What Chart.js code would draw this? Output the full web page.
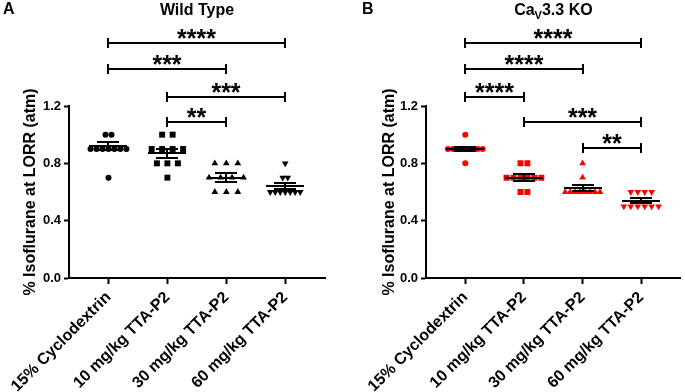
<!DOCTYPE html>
<html><head><meta charset="utf-8">
<script src="https://cdn.jsdelivr.net/npm/chart.js@4.4.1/dist/chart.umd.min.js"></script>
<style>
html,body{margin:0;padding:0;background:#fff;}
#wrap{position:relative;width:685px;height:392px;overflow:hidden;background:#fff;}
#c1{position:absolute;left:0;top:0;width:342px;height:392px;}
#c2{position:absolute;left:342px;top:0;width:343px;height:392px;}
</style></head><body>
<div id="wrap"><canvas id="c1" width="342" height="392"></canvas><canvas id="c2" width="343" height="392"></canvas></div>
<script>
// ---------- data ----------
const categories = ['15% Cyclodextrin', '10 mg/kg TTA-P2', '30 mg/kg TTA-P2', '60 mg/kg TTA-P2'];
const yTicks = [0, 0.4, 0.8, 1.2];

// Wild Type (panel A)
const wtCyclodextrin = [1.00, 1.00, 0.90, 0.90, 0.90, 0.90, 0.90, 0.90, 0.90, 0.70];
const wt10mg = [1.00, 1.00, 0.90, 0.90, 0.90, 0.90, 0.80, 0.80, 0.80, 0.70];
const wt30mg = [0.80, 0.80, 0.80, 0.70, 0.70, 0.70, 0.70, 0.60, 0.60, 0.60];
const wt60mg = [0.80, 0.70, 0.70, 0.60, 0.60, 0.60, 0.60, 0.60, 0.60, 0.60];
const wtMean = [0.92, 0.87, 0.70, 0.645];
const wtSem = [0.03, 0.03, 0.03, 0.021];
const wtBrackets = [[0, 3, 1.64, '****'], [0, 2, 1.455, '***'], [1, 3, 1.26, '***'], [1, 2, 1.09, '**']];

// CaV3.3 KO (panel B)
const koCyclodextrin = [1.00, 0.90, 0.90, 0.90, 0.90, 0.90, 0.90, 0.90, 0.90, 0.80];
const ko10mg = [0.80, 0.80, 0.70, 0.70, 0.70, 0.70, 0.70, 0.70, 0.60, 0.60];
const ko30mg = [0.80, 0.70, 0.60, 0.60, 0.60, 0.60, 0.60, 0.60, 0.60, 0.60];
const ko60mg = [0.60, 0.60, 0.60, 0.60, 0.50, 0.50, 0.50, 0.50, 0.50, 0.50];
const koMean = [0.90, 0.70, 0.63, 0.54];
const koSem = [0.015, 0.025, 0.022, 0.017];
const koBrackets = [[0, 3, 1.64, '****'], [0, 2, 1.455, '****'], [0, 1, 1.26, '****'], [1, 3, 1.09, '***'], [2, 3, 0.905, '**']];

// ---------- helpers ----------
const FONT = '"Liberation Sans", Arial, Helvetica, sans-serif';
const UNIT_PX = 59; // approx px per category, used only for horizontal spreading of equal values

function spread(values, spacingPx) {
  const counts = {}, seen = {};
  values.forEach(v => { counts[v] = (counts[v] || 0) + 1; });
  return values.map(v => {
    const k = counts[v]; const j = seen[v] || 0; seen[v] = j + 1;
    return (j - (k - 1) / 2) * spacingPx / UNIT_PX;
  });
}

function makeDatasets(groups, color, spacings) {
  const styles = [
    { pointStyle: 'circle', pointRadius: 3, rot: 0 },
    { pointStyle: 'rect', pointRadius: 4.2, rot: 0 },
    { pointStyle: 'triangle', pointRadius: 3.9, rot: 0 },
    { pointStyle: 'triangle', pointRadius: 3.9, rot: 180 }
  ];
  return groups.map((vals, i) => {
    const off = spread(vals, spacings[i]);
    return {
      data: vals.map((v, j) => ({ x: i + off[j], y: v })),
      pointStyle: styles[i].pointStyle,
      pointRadius: styles[i].pointRadius,
      pointRotation: styles[i].rot,
      backgroundColor: color,
      borderColor: color,
      borderWidth: 0,
      showLine: false
    };
  });
}

function ln(ctx, x1, y1, x2, y2) {
  ctx.beginPath(); ctx.moveTo(x1, y1); ctx.lineTo(x2, y2); ctx.stroke();
}

const panelPlugin = {
  id: 'panel',
  afterDatasetsDraw(chart, args, o) {
    const { ctx, scales: { x, y } } = chart;
    ctx.save();
    ctx.strokeStyle = '#000'; ctx.lineWidth = 2; ctx.lineCap = 'butt';
    o.means.forEach((m, i) => {
      const px = Math.round(x.getPixelForValue(i));
      const pm = Math.round(y.getPixelForValue(m));
      const pt = Math.round(y.getPixelForValue(m + o.sems[i]));
      const pb = Math.round(y.getPixelForValue(m - o.sems[i]));
      ln(ctx, px - 19, pm, px + 19, pm);
      ln(ctx, px, pt, px, pb);
      ln(ctx, px - 11, pt, px + 11, pt);
      ln(ctx, px - 11, pb, px + 11, pb);
    });
    ctx.restore();
  },
  afterDraw(chart, args, o) {
    const { ctx, chartArea, scales: { x, y } } = chart;
    ctx.save();
    ctx.fillStyle = '#000'; ctx.strokeStyle = '#000'; ctx.lineWidth = 2;
    // brackets
    o.brackets.forEach(([a, b, v, s]) => {
      const x1 = Math.round(x.getPixelForValue(a)), x2 = Math.round(x.getPixelForValue(b));
      const py = Math.round(y.getPixelForValue(v));
      ln(ctx, x1, py, x2, py);
      ln(ctx, x1, py - 5, x1, py + 5);
      ln(ctx, x2, py - 5, x2, py + 5);
      ctx.font = 'bold 25px ' + FONT;
      ctx.textAlign = 'center'; ctx.textBaseline = 'alphabetic';
      ctx.fillText(s, (x1 + x2) / 2, py + 4);
    });
    // panel letter
    ctx.font = 'bold 16px ' + FONT;
    ctx.textAlign = 'left'; ctx.textBaseline = 'alphabetic';
    ctx.fillText(o.letter, o.letterX, 14);
    // title (parts allow subscript)
    const cx = (chartArea.left + chartArea.right) / 2;
    let total = 0;
    o.title.forEach(p => { ctx.font = 'bold ' + p.size + 'px ' + FONT; p.w = ctx.measureText(p.t).width; total += p.w; });
    let tx = cx - total / 2;
    o.title.forEach(p => {
      ctx.font = 'bold ' + p.size + 'px ' + FONT;
      ctx.fillText(p.t, tx, 15 + (p.dy || 0));
      tx += p.w;
    });
    ctx.restore();
  }
};

function makeChart(canvasId, groups, color, spacings, yWidth, titlePad, rightPad, panelOpts) {
  return new Chart(document.getElementById(canvasId), {
    type: 'scatter',
    data: { datasets: makeDatasets(groups, color, spacings) },
    plugins: [panelPlugin],
    options: {
      responsive: false,
      animation: false,
      layout: { padding: { top: 106, left: 0, right: rightPad, bottom: 0 } },
      plugins: { legend: { display: false }, tooltip: { enabled: false }, panel: panelOpts },
      scales: {
        x: {
          type: 'linear', min: -0.67, max: 3.675,
          afterBuildTicks: s => { s.ticks = categories.map((_, i) => ({ value: i })); },
          afterFit: s => { s.height = 114; s.paddingLeft = 0; s.paddingRight = 0; },
          ticks: {
            autoSkip: false, minRotation: 45, maxRotation: 45, padding: 4, color: '#000',
            font: { family: FONT, size: 16, weight: 'bold' },
            callback: v => categories[v]
          },
          grid: { display: true, drawOnChartArea: false, drawTicks: true, tickLength: 6, tickWidth: 2, tickColor: '#000' },
          border: { display: true, width: 2, color: '#000' }
        },
        y: {
          min: 0, max: 1.2,
          afterBuildTicks: s => { s.ticks = yTicks.map(v => ({ value: v })); },
          afterFit: s => { s.width = yWidth; },
          ticks: { color: '#000', padding: 3, font: { family: FONT, size: 13, weight: 'bold' }, callback: v => v.toFixed(1) },
          grid: { display: true, drawOnChartArea: false, drawTicks: true, tickLength: 5, tickWidth: 2, tickColor: '#000' },
          border: { display: true, width: 2, color: '#000' },
          title: { display: true, text: '% Isoflurane at LORR (atm)', color: '#000', font: { family: FONT, size: 16, weight: 'bold' }, padding: { top: titlePad, bottom: 0 } }
        }
      }
    }
  });
}

makeChart('c1', [wtCyclodextrin, wt10mg, wt30mg, wt60mg], '#000000', [6, 10.5, 11.5, 5], 69, 21, 17, {
  means: wtMean, sems: wtSem, brackets: wtBrackets, letter: 'A', letterX: 3,
  title: [{ t: 'Wild Type', size: 16 }]
});
makeChart('c2', [koCyclodextrin, ko10mg, ko30mg, ko60mg], '#ff0000', [5, 7, 5, 7], 84, 38, 1, {
  means: koMean, sems: koSem, brackets: koBrackets, letter: 'B', letterX: 20,
  title: [{ t: 'Ca', size: 16 }, { t: 'V', size: 11, dy: 4 }, { t: '3.3 KO', size: 16 }]
});
</script>
</body></html>
